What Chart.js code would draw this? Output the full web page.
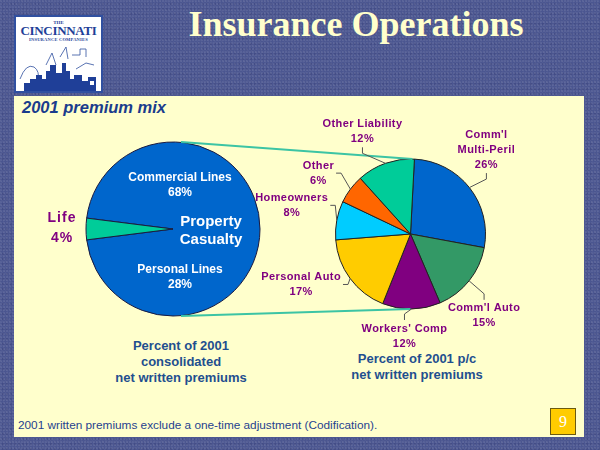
<!DOCTYPE html>
<html>
<head>
<meta charset="utf-8">
<script src="https://cdn.jsdelivr.net/npm/chart.js@4.4.0/dist/chart.umd.min.js"></script>
<style>
  body { margin: 0; }
  #slide {
    position: relative; width: 600px; height: 450px; overflow: hidden;
    background-color: #4b5690;
    background-image:
      radial-gradient(circle at 30% 40%, rgba(255,255,255,0.08) 0 0.8px, transparent 1.2px),
      radial-gradient(circle at 70% 80%, rgba(20,20,70,0.14) 0 0.8px, transparent 1.3px),
      repeating-linear-gradient(60deg, rgba(255,255,255,0.03) 0 1px, transparent 1px 3px);
    background-size: 3px 3px, 4px 5px, auto;
    font-family: "Liberation Sans", Arial, sans-serif;
  }
  #logo {
    position: absolute; left: 14px; top: 15px; width: 85px; height: 74px;
    background: #fff; border: 2px solid #3050a0;
    font-family: "Liberation Serif", serif; color: #1f3f98; text-align: center;
  }
  #title {
    position: absolute; left: 112px; width: 488px; top: 6px; text-align: center;
    font: bold 36px/36px "Liberation Serif", serif; color: #ffffcc;
  }
  #panel {
    position: absolute; left: 14px; top: 96px; width: 570px; height: 341px;
    background: #ffffcc;
  }
  #mix {
    position: absolute; left: 22px; top: 98px;
    font: italic bold 16.5px "Liberation Sans", Arial, sans-serif; color: #1a3c8c;
  }
  .cap {
    position: absolute; text-align: center; width: 200px;
    font: bold 13px/16px "Liberation Sans", Arial, sans-serif; color: #1f4f8f;
  }
  #note {
    position: absolute; left: 18px; top: 418px;
    font: 11.8px "Liberation Sans", Arial, sans-serif; color: #1f3f8f;
  }
  #page {
    position: absolute; left: 550px; top: 408px; width: 24px; height: 25px;
    background: #ffcc00; border: 1px solid #6b5a10;
    font: 16px/25px "Liberation Serif", serif; color: #fff; text-align: center;
  }
  canvas { position: absolute; left: 0; top: 0; }
</style>
</head>
<body>
<div id="slide">
  <div id="logo">
    <div style="font-size:5px;font-weight:bold;margin-top:3px">THE</div>
    <div style="font-size:13px;font-weight:bold;line-height:12px;letter-spacing:-0.3px">CINCINNATI</div>
    <div style="font-size:4.5px;font-weight:bold;letter-spacing:0.2px">INSURANCE COMPANIES</div>
    <svg width="85" height="46" viewBox="0 0 85 46" style="position:absolute;left:0;top:28px">
      <path d="M4 34 Q10 18 18 22 Q24 26 22 36" fill="none" stroke="#3050a0" stroke-width="0.8"/>
      <path d="M30 20 L36 8 L40 20 M44 12 L50 2 L52 14" fill="none" stroke="#3050a0" stroke-width="0.8"/>
      <path d="M56 10 L64 10 L64 4 L70 4 L70 12 M60 24 L70 18 L78 20" fill="none" stroke="#3050a0" stroke-width="0.8"/>
      <polygon points="8,46 8,38 14,38 14,34 20,34 20,30 26,30 26,34 30,34 30,26 34,26 34,20 40,20 40,28 46,28 46,18 50,18 50,26 54,26 54,34 58,34 58,30 66,30 66,36 72,36 72,32 80,32 80,46" fill="#1f3f98"/>
      <rect x="74" y="36" width="4" height="4" fill="#fff"/>
    </svg>
  </div>
  <div id="title">Insurance Operations</div>
  <div id="panel"></div>
  <div id="mix">2001 premium mix</div>
  <div class="cap" style="left:81px;top:338px">Percent of 2001<br>consolidated<br>net written premiums</div>
  <div class="cap" style="left:317px;top:351px">Percent of 2001 p/c<br>net written premiums</div>
  <div id="note">2001 written premiums exclude a one-time adjustment (Codification).</div>
  <div id="page">9</div>
  <canvas id="mixLeft" width="600" height="450"></canvas>
  <canvas id="mixRight" width="600" height="450"></canvas>
</div>
<script>
// consolidated premium mix
var mixCats = ['Property\nCasualty', 'Life'];
var mixPct = [96, 4];
var mixColors = ['#0066cc', '#00cc99'];

// property casualty split
var pcCats = ['Commercial Lines', 'Personal Lines'];
var pcPct = [68, 28];

// p/c lines of business
var lineCats = ["Comm'l\nMulti-Peril", "Comm'l Auto", "Workers' Comp", 'Personal Auto', 'Homeowners', 'Other', 'Other Liability'];
var linePct = [26, 15, 12, 17, 8, 6, 12];
var lineColors = ['#0066cc', '#339966', '#800080', '#ffcc00', '#00ccff', '#ff6600', '#00cc99'];

// label placement, offset from the outer mid point of each slice
var lineNudge = [[17, -38], [15, 35], [-7, 27], [-49, 6], [-45, -15], [-32, -16], [-23, -32]];

var sum = function (a) { return a.reduce(function (s, v) { return s + v; }, 0); };

function drawLines(ctx, lines, x, y, lh) {
  lines.forEach(function (t, j) {
    ctx.fillText(t, x, y + (j - (lines.length - 1) / 2) * lh);
  });
}

var leftLabels = {
  id: 'leftLabels',
  afterDraw: function (chart) {
    var ctx = chart.ctx;
    var arcs = chart.getDatasetMeta(0).data;
    var pc = arcs[0], life = arcs[1];
    ctx.save();
    ctx.textAlign = 'center';
    ctx.textBaseline = 'middle';
    // commercial / personal inside the p/c slice
    ctx.fillStyle = '#ffffff';
    ctx.font = 'bold 12px "Liberation Sans", Arial, sans-serif';
    drawLines(ctx, [pcCats[0], pcPct[0] + '%'], pc.x + 7, pc.y - 44, 14.5);
    drawLines(ctx, [pcCats[1], pcPct[1] + '%'], pc.x + 7, pc.y + 48, 14.5);
    ctx.font = 'bold 15px "Liberation Sans", Arial, sans-serif';
    drawLines(ctx, mixCats[0].split('\n'), pc.x + 38, pc.y + 2, 17.5);
    // life outside the pie
    var mid = (life.startAngle + life.endAngle) / 2;
    var ex = life.x + Math.cos(mid) * life.outerRadius;
    var ey = life.y + Math.sin(mid) * life.outerRadius;
    ctx.fillStyle = '#800080';
    ctx.font = 'bold 14px "Liberation Sans", Arial, sans-serif';
    if ('letterSpacing' in ctx) ctx.letterSpacing = '1px';
    drawLines(ctx, [mixCats[1], mixPct[1] + '%'], ex - 24, ey - 1, 20);
    ctx.restore();
  }
};

var rightLabels = {
  id: 'rightLabels',
  afterDraw: function (chart) {
    var ctx = chart.ctx;
    var arcs = chart.getDatasetMeta(0).data;
    ctx.save();
    // connectors between the two pies
    var a = leftChart.getDatasetMeta(0).data[0];
    var b = arcs[0];
    ctx.strokeStyle = '#3cc4a4';
    ctx.lineWidth = 2;
    ctx.beginPath();
    ctx.moveTo(a.x + 8, a.y - a.outerRadius);
    ctx.lineTo(b.x + 2, b.y - b.outerRadius);
    ctx.moveTo(a.x + 8, a.y + a.outerRadius);
    ctx.lineTo(b.x, b.y + b.outerRadius);
    ctx.stroke();

    ctx.font = 'bold 11px "Liberation Sans", Arial, sans-serif';
    if ('letterSpacing' in ctx) ctx.letterSpacing = '0.4px';
    ctx.textAlign = 'center';
    ctx.textBaseline = 'middle';
    arcs.forEach(function (arc, i) {
      var mid = (arc.startAngle + arc.endAngle) / 2;
      var ex = arc.x + Math.cos(mid) * arc.outerRadius;
      var ey = arc.y + Math.sin(mid) * arc.outerRadius;
      var lines = lineCats[i].split('\n').concat([linePct[i] + '%']);
      var cx = ex + lineNudge[i][0], cy = ey + lineNudge[i][1];
      var w = Math.max.apply(null, lines.map(function (t) { return ctx.measureText(t).width; }));
      var h = lines.length * 15;
      // leader line
      var sx, sy, tx, ty;
      if (Math.abs(lineNudge[i][1]) >= Math.abs(lineNudge[i][0])) {
        var dir = lineNudge[i][1] < 0 ? 1 : -1;
        sx = cx; sy = cy + dir * (h / 2 + 1);
        tx = sx; ty = sy + dir * 6;
      } else {
        var side = lineNudge[i][0] < 0 ? 1 : -1;
        sx = cx + side * (w / 2 + 2); sy = cy;
        tx = sx + side * 5; ty = sy;
      }
      ctx.strokeStyle = '#555';
      ctx.lineWidth = 1;
      ctx.beginPath();
      ctx.moveTo(sx, sy);
      ctx.lineTo(tx, ty);
      ctx.lineTo(ex, ey);
      ctx.stroke();
      ctx.fillStyle = '#800080';
      drawLines(ctx, lines, cx, cy, 15);
    });
    ctx.restore();
  }
};

var leftChart = new Chart('mixLeft', {
  type: 'pie',
  data: {
    labels: mixCats,
    datasets: [{ data: mixPct, backgroundColor: mixColors, borderColor: '#1a1a40', borderWidth: 1 }]
  },
  options: {
    responsive: false, animation: false, events: [],
    radius: 87,
    // centre the life slice on the left side
    rotation: 270 - 360 * (mixPct[0] + mixPct[1] / 2) / sum(mixPct),
    layout: { padding: { left: 73, right: 327, top: 129, bottom: 121 } },
    plugins: { legend: { display: false }, tooltip: { enabled: false } }
  },
  plugins: [leftLabels]
});

var rightChart = new Chart('mixRight', {
  type: 'pie',
  data: {
    labels: lineCats,
    datasets: [{ data: linePct, backgroundColor: lineColors, borderColor: '#222', borderWidth: 1 }]
  },
  options: {
    responsive: false, animation: false, events: [],
    radius: 75,
    rotation: 3,
    layout: { padding: { left: 320, right: 99, top: 139, bottom: 121 } },
    plugins: { legend: { display: false }, tooltip: { enabled: false } }
  },
  plugins: [rightLabels]
});
</script>
</body>
</html>
